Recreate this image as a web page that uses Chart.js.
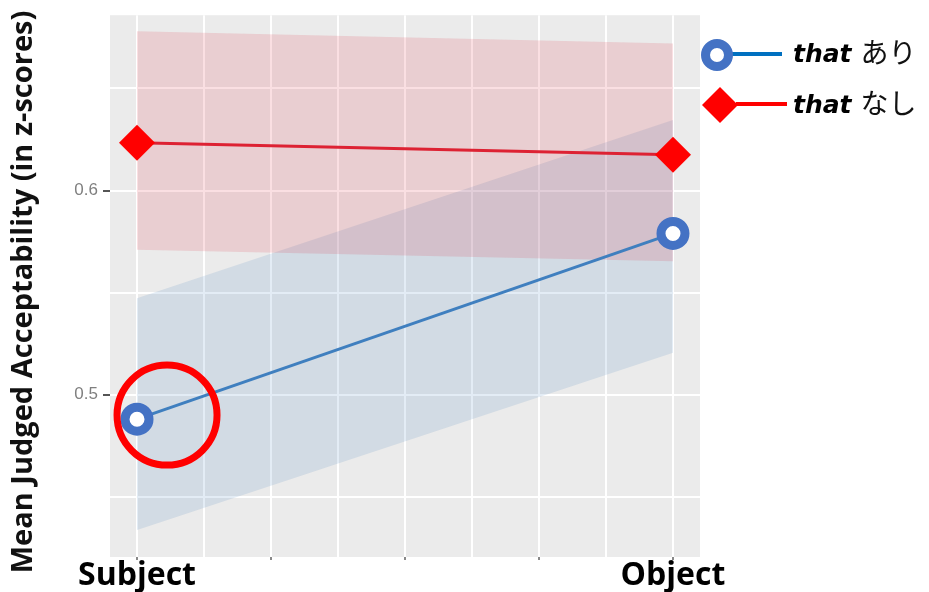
<!DOCTYPE html>
<html><head><meta charset="utf-8">
<script src="https://cdn.jsdelivr.net/npm/chart.js@4/dist/chart.umd.min.js"></script>
<style>html,body{margin:0;padding:0;background:#fff}#wrap{width:929px;height:592px}</style>
</head><body><div id="wrap"><canvas id="c" width="929" height="592"></canvas></div>
<script>
// ---- data ----
const categories = ['Subject', 'Object'];
const seriesNames = ['that あり', 'that なし'];
const yTitle = 'Mean Judged Acceptability (in z-scores)';
const thatAri = [0.488, 0.579];
const thatAriLow = [0.4337, 0.5205];
const thatAriHigh = [0.5473, 0.6346];
const thatNashi = [0.6234, 0.6176];
const thatNashiLow = [0.571, 0.5654];
const thatNashiHigh = [0.678, 0.672];
const yTicks = [0.45, 0.5, 0.55, 0.6, 0.65];
const yLabelled = [0.5, 0.6];
const xGrid = [0, 0.125, 0.25, 0.375, 0.5, 0.625, 0.75, 0.875, 1];
const xTickMarks = [0, 0.25, 0.5, 0.75, 1];
const highlight = [{x: 0.056, y: 0.49}];

const toPts = arr => arr.map((v, i) => ({x: i, y: v}));
const near = (a, b) => Math.abs(a - b) < 1e-6;

const bgPlugin = {
  id: 'panelBg',
  beforeDraw(chart) {
    const {ctx, chartArea: a} = chart;
    ctx.save();
    ctx.fillStyle = '#EBEBEB';
    ctx.fillRect(a.left, a.top, a.right - a.left, a.bottom - a.top);
    ctx.restore();
  }
};

const titlePlugin = {
  id: 'yTitle',
  afterDraw(chart) {
    const ctx = chart.ctx;
    ctx.save();
    ctx.translate(24, 292);
    ctx.rotate(-Math.PI / 2);
    ctx.font = 'bold 29px "Open Sans"';
    ctx.fillStyle = '#111';
    ctx.textAlign = 'center';
    ctx.textBaseline = 'middle';
    ctx.fillText(yTitle, 0, 0);
    ctx.restore();
  }
};

const legendPlugin = {
  id: 'customLegend',
  afterDraw(chart) {
    const ctx = chart.ctx;
    ctx.save();
    // row 1: that あり
    ctx.strokeStyle = '#0070C0'; ctx.lineWidth = 4;
    ctx.beginPath(); ctx.moveTo(731, 54); ctx.lineTo(782, 54); ctx.stroke();
    ctx.beginPath(); ctx.arc(717, 55, 11.5, 0, Math.PI * 2);
    ctx.fillStyle = '#fff'; ctx.fill();
    ctx.strokeStyle = '#4472C4'; ctx.lineWidth = 9; ctx.stroke();
    // row 2: that なし
    ctx.strokeStyle = '#FF0000'; ctx.lineWidth = 4;
    ctx.beginPath(); ctx.moveTo(736, 104); ctx.lineTo(787, 104); ctx.stroke();
    ctx.fillStyle = '#FF0000';
    ctx.beginPath(); ctx.moveTo(720, 87); ctx.lineTo(738, 105); ctx.lineTo(720, 123); ctx.lineTo(702, 105); ctx.closePath(); ctx.fill();
    // texts
    const rows = [62, 113];
    seriesNames.forEach((name, i) => {
      const [en, ja] = name.split(' ');
      ctx.fillStyle = '#000';
      ctx.textBaseline = 'alphabetic';
      ctx.font = 'italic bold 25px "DejaVu Sans"';
      ctx.fillText(en, 793, rows[i]);
      const w = ctx.measureText(en).width;
      ctx.font = '28px "Noto Sans CJK JP"';
      ctx.fillStyle = '#111';
      ctx.fillText(ja, 793 + w + 9, rows[i] + 1);
    });
    ctx.restore();
  }
};

new Chart(document.getElementById('c'), {
  type: 'line',
  data: {
    datasets: [
      {label: 'highlight', data: highlight, showLine: false, pointStyle: 'circle', pointRadius: 50,
       pointBorderWidth: 7, pointBorderColor: '#FF0000', pointBackgroundColor: 'rgba(0,0,0,0)', pointHoverRadius: 50},
      {label: seriesNames[0], data: toPts(thatAri), borderColor: '#3F7FBF', borderWidth: 3,
       pointStyle: 'circle', pointRadius: 12, pointBorderWidth: 9, pointBorderColor: '#4472C4',
       pointBackgroundColor: '#fff', fill: false},
      {label: seriesNames[1], data: toPts(thatNashi), borderColor: '#DD2233', borderWidth: 3,
       pointStyle: 'rectRot', pointRadius: 18, pointBorderWidth: 0, pointBorderColor: '#FF0000',
       pointBackgroundColor: '#FF0000', fill: false},
      {label: 'nashiHigh', data: toPts(thatNashiHigh), borderWidth: 0, pointRadius: 0,
       fill: '+1', backgroundColor: 'rgba(220,40,60,0.15)'},
      {label: 'nashiLow', data: toPts(thatNashiLow), borderWidth: 0, pointRadius: 0, fill: false},
      {label: 'ariHigh', data: toPts(thatAriHigh), borderWidth: 0, pointRadius: 0,
       fill: '+1', backgroundColor: 'rgba(70,130,190,0.15)'},
      {label: 'ariLow', data: toPts(thatAriLow), borderWidth: 0, pointRadius: 0, fill: false}
    ]
  },
  options: {
    responsive: false,
    animation: false,
    devicePixelRatio: 1,
    layout: {autoPadding: false, padding: {left: 0, right: 229, top: 13, bottom: 0}},
    plugins: {legend: {display: false}, tooltip: {enabled: false}, filler: {propagate: false}},
    scales: {
      x: {
        type: 'linear', min: -0.0504, max: 1.0504,
        afterBuildTicks: s => { s.ticks = xGrid.map(v => ({value: v})); },
        afterFit: s => { s.height = 35; },
        ticks: {
          autoSkip: false, maxRotation: 0, minRotation: 0, padding: 0,
          callback: v => near(v, 0) ? categories[0] : (near(v, 1) ? categories[1] : ''),
          font: {family: 'Open Sans', weight: 'bold', size: 32, lineHeight: 1},
          color: '#000'
        },
        grid: {
          color: '#FFFFFF', lineWidth: 2, tickLength: 3,
          tickColor: c => xTickMarks.some(t => near(t, c.tick.value)) ? '#888' : 'rgba(0,0,0,0)'
        },
        border: {display: false}
      },
      y: {
        type: 'linear', min: 0.4205, max: 0.6859,
        afterBuildTicks: s => { s.ticks = yTicks.map(v => ({value: v})); },
        afterFit: s => { s.width = 110; },
        ticks: {
          callback: v => yLabelled.some(t => near(t, v)) ? v.toFixed(1) : '',
          color: '#7F7F7F', padding: 5,
          font: {family: 'Liberation Sans', size: 17}
        },
        grid: {
          color: '#FFFFFF', lineWidth: 2, tickLength: 7,
          tickColor: c => yLabelled.some(t => near(t, c.tick.value)) ? '#555' : 'rgba(0,0,0,0)'
        },
        border: {display: false},
        title: {display: false}
      }
    }
  },
  plugins: [bgPlugin, titlePlugin, legendPlugin]
});
</script>
</body></html>
